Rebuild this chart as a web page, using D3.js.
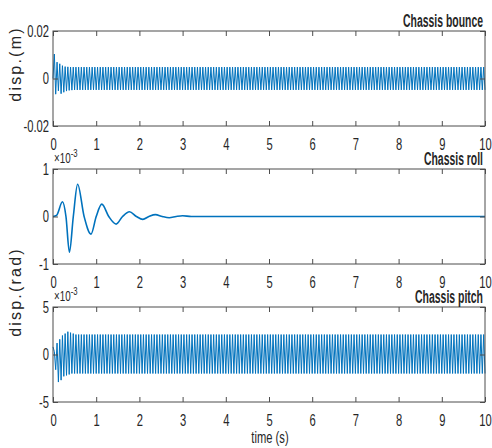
<!DOCTYPE html>
<html>
<head>
<meta charset="utf-8">
<script src="https://cdn.jsdelivr.net/npm/d3@7"></script>
<style>
body { margin: 0; background: #fff; }
svg text { font-family: "Liberation Sans", Arial, sans-serif; fill: #262626; }
</style>
</head>
<body>
<div id="chart"></div>
<script>
// time axis
var timeTicks = [0, 1, 2, 3, 4, 5, 6, 7, 8, 9, 10];

// chassis bounce: successive extrema (mm), one every bounceStep seconds
var bounceStep = 0.03125;
var bounceMm = [
  0, 10.3, -6.6, 6.9, -5.2, 6.2, -6.4, 5.4, -5.8, 5.0, -5.3, 4.9, -5.0, 4.8, -4.9, 4.8, -4.8, 4.8, -4.8, 4.8,
  -4.8, 4.8, -4.8, 4.8, -4.8, 4.8, -4.8, 4.8, -4.8, 4.8, -4.8, 4.8, -4.8, 4.8, -4.8, 4.8, -4.8, 4.8, -4.8, 4.8,
  -4.8, 4.8, -4.8, 4.8, -4.8, 4.8, -4.8, 4.8, -4.8, 4.8, -4.8, 4.8, -4.8, 4.8, -4.8, 4.8, -4.8, 4.8, -4.8, 4.8,
  -4.8, 4.8, -4.8, 4.8, -4.8, 4.8, -4.8, 4.8, -4.8, 4.8, -4.8, 4.8, -4.8, 4.8, -4.8, 4.8, -4.8, 4.8, -4.8, 4.8,
  -4.8, 4.8, -4.8, 4.8, -4.8, 4.8, -4.8, 4.8, -4.8, 4.8, -4.8, 4.8, -4.8, 4.8, -4.8, 4.8, -4.8, 4.8, -4.8, 4.8,
  -4.8, 4.8, -4.8, 4.8, -4.8, 4.8, -4.8, 4.8, -4.8, 4.8, -4.8, 4.8, -4.8, 4.8, -4.8, 4.8, -4.8, 4.8, -4.8, 4.8,
  -4.8, 4.8, -4.8, 4.8, -4.8, 4.8, -4.8, 4.8, -4.8, 4.8, -4.8, 4.8, -4.8, 4.8, -4.8, 4.8, -4.8, 4.8, -4.8, 4.8,
  -4.8, 4.8, -4.8, 4.8, -4.8, 4.8, -4.8, 4.8, -4.8, 4.8, -4.8, 4.8, -4.8, 4.8, -4.8, 4.8, -4.8, 4.8, -4.8, 4.8,
  -4.8, 4.8, -4.8, 4.8, -4.8, 4.8, -4.8, 4.8, -4.8, 4.8, -4.8, 4.8, -4.8, 4.8, -4.8, 4.8, -4.8, 4.8, -4.8, 4.8,
  -4.8, 4.8, -4.8, 4.8, -4.8, 4.8, -4.8, 4.8, -4.8, 4.8, -4.8, 4.8, -4.8, 4.8, -4.8, 4.8, -4.8, 4.8, -4.8, 4.8,
  -4.8, 4.8, -4.8, 4.8, -4.8, 4.8, -4.8, 4.8, -4.8, 4.8, -4.8, 4.8, -4.8, 4.8, -4.8, 4.8, -4.8, 4.8, -4.8, 4.8,
  -4.8, 4.8, -4.8, 4.8, -4.8, 4.8, -4.8, 4.8, -4.8, 4.8, -4.8, 4.8, -4.8, 4.8, -4.8, 4.8, -4.8, 4.8, -4.8, 4.8,
  -4.8, 4.8, -4.8, 4.8, -4.8, 4.8, -4.8, 4.8, -4.8, 4.8, -4.8, 4.8, -4.8, 4.8, -4.8, 4.8, -4.8, 4.8, -4.8, 4.8,
  -4.8, 4.8, -4.8, 4.8, -4.8, 4.8, -4.8, 4.8, -4.8, 4.8, -4.8, 4.8, -4.8, 4.8, -4.8, 4.8, -4.8, 4.8, -4.8, 4.8,
  -4.8, 4.8, -4.8, 4.8, -4.8, 4.8, -4.8, 4.8, -4.8, 4.8, -4.8, 4.8, -4.8, 4.8, -4.8, 4.8, -4.8, 4.8, -4.8, 4.8,
  -4.8, 4.8, -4.8, 4.8, -4.8, 4.8, -4.8, 4.8, -4.8, 4.8, -4.8, 4.8, -4.8, 4.8, -4.8, 4.8, -4.8, 4.8, -4.8, 4.8,
  -4.8
];

// chassis roll: damped response (x1e-3 rad)
var rollTime = [0, 0.08, 0.22, 0.30, 0.38, 0.47, 0.57, 0.72, 0.88, 1.00, 1.13, 1.29, 1.46, 1.61, 1.77, 1.93,
  2.08, 2.22, 2.37, 2.53, 2.69, 2.85, 3.00, 3.20, 10];
var rollVal = [0, 0.02, 0.31, 0, -0.75, 0, 0.68, 0, -0.37, 0, 0.26, 0, -0.16, 0, 0.10, 0,
  -0.06, 0, 0.04, 0, -0.025, 0, 0.015, 0, 0];

// chassis pitch: successive extrema (x1e-3 rad)
var pitchStep = 0.03125;
var pitchVal = [
  0.8, 0.3, -1.6, 1.2, -2.9, 1.6, -2.7, 2.0, -2.3, 2.2, -2.2, 2.4, -2.1, 2.3, -2.0, 2.2, -2.0, 2.1, -2.0, 2.1,
  -2.0, 2.1, -2.0, 2.1, -2.0, 2.1, -2.0, 2.1, -2.0, 2.1, -2.0, 2.1, -2.0, 2.1, -2.0, 2.1, -2.0, 2.1, -2.0, 2.1,
  -2.0, 2.1, -2.0, 2.1, -2.0, 2.1, -2.0, 2.1, -2.0, 2.1, -2.0, 2.1, -2.0, 2.1, -2.0, 2.1, -2.0, 2.1, -2.0, 2.1,
  -2.0, 2.1, -2.0, 2.1, -2.0, 2.1, -2.0, 2.1, -2.0, 2.1, -2.0, 2.1, -2.0, 2.1, -2.0, 2.1, -2.0, 2.1, -2.0, 2.1,
  -2.0, 2.1, -2.0, 2.1, -2.0, 2.1, -2.0, 2.1, -2.0, 2.1, -2.0, 2.1, -2.0, 2.1, -2.0, 2.1, -2.0, 2.1, -2.0, 2.1,
  -2.0, 2.1, -2.0, 2.1, -2.0, 2.1, -2.0, 2.1, -2.0, 2.1, -2.0, 2.1, -2.0, 2.1, -2.0, 2.1, -2.0, 2.1, -2.0, 2.1,
  -2.0, 2.1, -2.0, 2.1, -2.0, 2.1, -2.0, 2.1, -2.0, 2.1, -2.0, 2.1, -2.0, 2.1, -2.0, 2.1, -2.0, 2.1, -2.0, 2.1,
  -2.0, 2.1, -2.0, 2.1, -2.0, 2.1, -2.0, 2.1, -2.0, 2.1, -2.0, 2.1, -2.0, 2.1, -2.0, 2.1, -2.0, 2.1, -2.0, 2.1,
  -2.0, 2.1, -2.0, 2.1, -2.0, 2.1, -2.0, 2.1, -2.0, 2.1, -2.0, 2.1, -2.0, 2.1, -2.0, 2.1, -2.0, 2.1, -2.0, 2.1,
  -2.0, 2.1, -2.0, 2.1, -2.0, 2.1, -2.0, 2.1, -2.0, 2.1, -2.0, 2.1, -2.0, 2.1, -2.0, 2.1, -2.0, 2.1, -2.0, 2.1,
  -2.0, 2.1, -2.0, 2.1, -2.0, 2.1, -2.0, 2.1, -2.0, 2.1, -2.0, 2.1, -2.0, 2.1, -2.0, 2.1, -2.0, 2.1, -2.0, 2.1,
  -2.0, 2.1, -2.0, 2.1, -2.0, 2.1, -2.0, 2.1, -2.0, 2.1, -2.0, 2.1, -2.0, 2.1, -2.0, 2.1, -2.0, 2.1, -2.0, 2.1,
  -2.0, 2.1, -2.0, 2.1, -2.0, 2.1, -2.0, 2.1, -2.0, 2.1, -2.0, 2.1, -2.0, 2.1, -2.0, 2.1, -2.0, 2.1, -2.0, 2.1,
  -2.0, 2.1, -2.0, 2.1, -2.0, 2.1, -2.0, 2.1, -2.0, 2.1, -2.0, 2.1, -2.0, 2.1, -2.0, 2.1, -2.0, 2.1, -2.0, 2.1,
  -2.0, 2.1, -2.0, 2.1, -2.0, 2.1, -2.0, 2.1, -2.0, 2.1, -2.0, 2.1, -2.0, 2.1, -2.0, 2.1, -2.0, 2.1, -2.0, 2.1,
  -2.0, 2.1, -2.0, 2.1, -2.0, 2.1, -2.0, 2.1, -2.0, 2.1, -2.0, 2.1, -2.0, 2.1, -2.0, 2.1, -2.0, 2.1, -2.0, 2.1,
  -2.0
];

var panelTitles = ["Chassis bounce", "Chassis roll", "Chassis pitch"];
var bounceTicks = [-20, 0, 20], bounceTickLabels = ["-0.02", "0", "0.02"];
var rollTicks = [-1, 0, 1], rollTickLabels = ["-1", "0", "1"];
var pitchTicks = [-5, 0, 5], pitchTickLabels = ["-5", "0", "5"];

var width = 492, height = 448;
var left = 53, right = 485, panelH = 95;
var panelTops = [31, 169, 307];
var titleWidths = [80, 59, 68];
var blue = "#0072BD";
var squeeze = 0.7;   // the figure's text is horizontally condensed

var svg = d3.select("#chart").append("svg")
    .attr("width", width)
    .attr("height", height);

var x = d3.scaleLinear().domain([0, 10]).range([left, right]);

var panels = [
  { title: panelTitles[0], domain: [-20, 20], ticks: bounceTicks, labels: bounceTickLabels,
    pts: bounceMm.map(function(v, i) { return [i * bounceStep, v]; }), width: 1, curve: d3.curveLinear, exp: false },
  { title: panelTitles[1], domain: [-1, 1], ticks: rollTicks, labels: rollTickLabels,
    pts: rollVal.map(function(v, i) { return [rollTime[i], v]; }), width: 1.6, curve: d3.curveMonotoneX, exp: true },
  { title: panelTitles[2], domain: [-5, 5], ticks: pitchTicks, labels: pitchTickLabels,
    pts: pitchVal.map(function(v, i) { return [i * pitchStep, v]; }), width: 1, curve: d3.curveLinear, exp: true }
];

panels.forEach(function(p, k) {
  var top = panelTops[k], bottom = top + panelH;
  var y = d3.scaleLinear().domain(p.domain).range([bottom, top]);
  var g = svg.append("g");

  // data line
  var line = d3.line()
      .x(function(d) { return x(d[0]); })
      .y(function(d) { return y(d[1]); })
      .curve(p.curve);
  g.append("path")
      .datum(p.pts)
      .attr("d", line)
      .attr("fill", "none")
      .attr("stroke", blue)
      .attr("stroke-width", p.width)
      .attr("stroke-linejoin", "round");

  // bottom axis with labels, ticks pointing inwards
  var xb = g.append("g")
      .attr("transform", "translate(0," + bottom + ")")
      .call(d3.axisBottom(x).tickValues(timeTicks).tickFormat(d3.format("d"))
        .tickSizeInner(-5).tickSizeOuter(0).tickPadding(13));
  // top axis, ticks only
  var xt = g.append("g")
      .attr("transform", "translate(0," + top + ")")
      .call(d3.axisTop(x).tickValues(timeTicks).tickFormat("").tickSizeInner(-5).tickSizeOuter(0));
  // left axis
  var yl = g.append("g")
      .attr("transform", "translate(" + left + ",0)")
      .call(d3.axisLeft(y).tickValues(p.ticks)
        .tickFormat(function(d, i) { return p.labels[i]; })
        .tickSizeInner(-5).tickSizeOuter(0).tickPadding(4));
  // right axis, ticks only
  var yr = g.append("g")
      .attr("transform", "translate(" + right + ",0)")
      .call(d3.axisRight(y).tickValues(p.ticks).tickFormat("").tickSizeInner(-5).tickSizeOuter(0));

  [xb, xt, yl, yr].forEach(function(a) {
    a.select(".domain").remove();
    a.selectAll(".tick line").attr("stroke", "#4d4d4d");
    a.selectAll("text").attr("font-size", 16).attr("font-family", null).attr("fill", "#262626");
  });
  xb.selectAll("text").attr("transform", "scale(" + squeeze + ",1)");
  yl.selectAll("text")
      .attr("x", -4 / squeeze)
      .attr("transform", "scale(" + squeeze + ",1)");

  // box
  g.append("rect")
      .attr("x", left).attr("y", top)
      .attr("width", right - left).attr("height", panelH)
      .attr("fill", "none")
      .attr("stroke", "#4d4d4d")
      .attr("stroke-width", 1);

  // title
  g.append("text")
      .text(p.title)
      .attr("x", right - 2)
      .attr("y", top - 4)
      .attr("text-anchor", "end")
      .attr("font-weight", "bold")
      .attr("font-size", 18)
      .attr("textLength", titleWidths[k])
      .attr("lengthAdjust", "spacingAndGlyphs")
      .attr("fill", "#000");

  // exponent
  if (p.exp) {
    var e = g.append("text")
        .attr("transform", "translate(" + (left + 1) + "," + (top - 6) + ") scale(" + squeeze + ",1)")
        .attr("font-size", 14)
        .attr("fill", "#555");
    e.append("tspan").text("\u00d710");
    e.append("tspan").text("-3").attr("font-size", 11).attr("dy", -6);
  }
});

// y axis labels
svg.append("text")
    .text("disp.(m)")
    .attr("transform", "translate(21,64) rotate(-90)")
    .attr("text-anchor", "middle")
    .attr("font-size", 16)
    .attr("letter-spacing", 2.2);

svg.append("text")
    .text("disp.(rad)")
    .attr("transform", "translate(21,292) rotate(-90)")
    .attr("text-anchor", "middle")
    .attr("font-size", 16)
    .attr("letter-spacing", 2.2);

// x axis label
svg.append("text")
    .text("time (s)")
    .attr("transform", "translate(270,443) scale(" + squeeze + ",1)")
    .attr("text-anchor", "middle")
    .attr("font-size", 16);
</script>
</body>
</html>
